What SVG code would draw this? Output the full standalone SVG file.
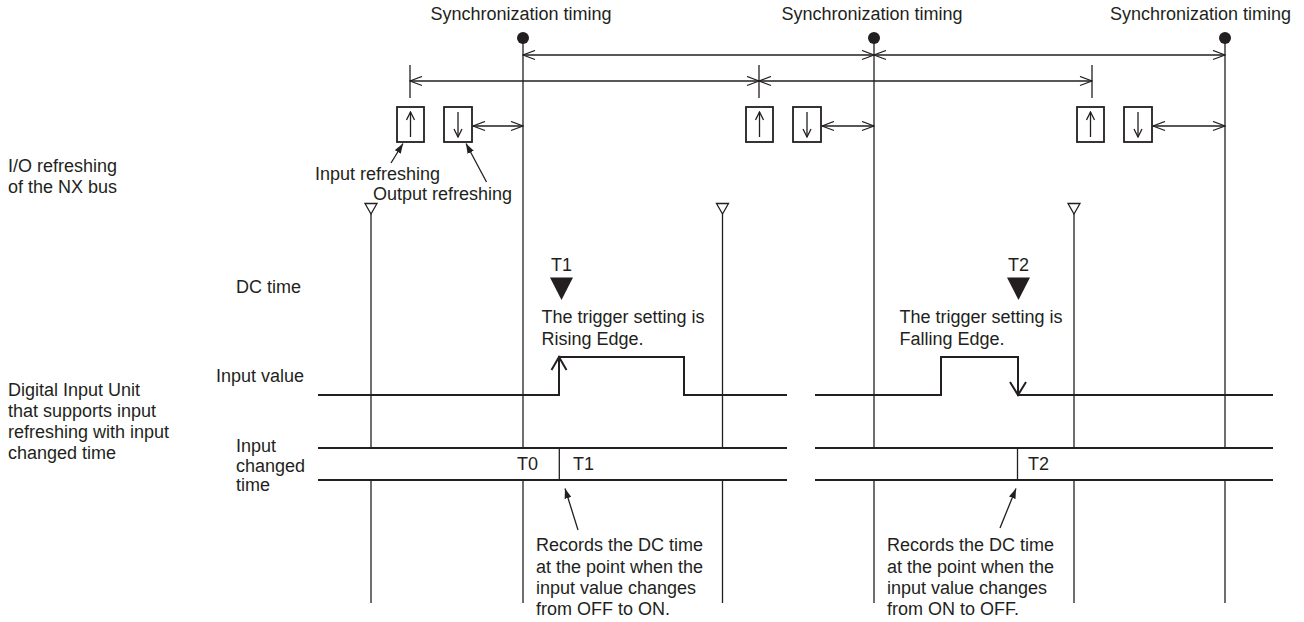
<svg xmlns="http://www.w3.org/2000/svg" width="1304" height="622" viewBox="0 0 1304 622">
<style>
.t{font-family:"Liberation Sans",Arial,sans-serif;font-size:18px;fill:#231f20}
.m{text-anchor:middle}
.e{text-anchor:end}
.ln{stroke:#231f20;stroke-width:1.3;fill:none}
.th{stroke:#231f20;stroke-width:2;fill:none}
.box{stroke:#231f20;stroke-width:1.8;fill:#fff}
.dot{fill:#231f20}
.tri{stroke:#231f20;stroke-width:1.3;fill:#fff}
.band{fill:#fff;stroke:none}
</style>
<defs>
<marker id="open" markerUnits="userSpaceOnUse" viewBox="0 0 14 11" markerWidth="14" markerHeight="11" refX="13" refY="5.5" orient="auto-start-reverse"><path d="M1,1 L13,5.5 L1,10" fill="none" stroke="#231f20" stroke-width="1.3"/></marker>
<marker id="small" markerUnits="userSpaceOnUse" viewBox="0 0 10 10" markerWidth="10" markerHeight="10" refX="9" refY="5" orient="auto-start-reverse"><path d="M1,1 L9,5 L1,9" fill="none" stroke="#231f20" stroke-width="1.3"/></marker>
<marker id="fill" markerUnits="userSpaceOnUse" viewBox="0 0 10 7" markerWidth="10" markerHeight="7" refX="10" refY="3.5" orient="auto"><path d="M0,0 L10,3.5 L0,7 z" fill="#231f20"/></marker>
</defs>
<rect width="1304" height="622" fill="#fff"/>

<g id="timing-lines">
<line class="ln" x1="523" y1="38" x2="523" y2="603"/>
<line class="ln" x1="874" y1="38" x2="874" y2="603"/>
<line class="ln" x1="1225" y1="38" x2="1225" y2="603"/>
<line class="ln" x1="371" y1="214" x2="371" y2="603"/>
<line class="ln" x1="722.5" y1="214" x2="722.5" y2="603"/>
<line class="ln" x1="1074" y1="214" x2="1074" y2="603"/>
</g>

<g id="sync-markers">
<text class="t m" x="521" y="20">Synchronization timing</text>
<text class="t m" x="872" y="20">Synchronization timing</text>
<text class="t e" x="1291" y="20">Synchronization timing</text>
<circle class="dot" cx="523" cy="38" r="6"/>
<circle class="dot" cx="874" cy="38" r="6"/>
<circle class="dot" cx="1225" cy="38" r="6"/>
</g>

<g id="dc-markers">
<polygon class="tri" points="365,203.5 377,203.5 371,214"/>
<polygon class="tri" points="716.5,203.5 728.5,203.5 722.5,214"/>
<polygon class="tri" points="1068,203.5 1080,203.5 1074,214"/>
</g>

<g id="ticks">
<line class="ln" x1="410" y1="65" x2="410" y2="98"/>
<line class="ln" x1="759" y1="65" x2="759" y2="98"/>
<line class="ln" x1="1092" y1="65" x2="1092" y2="98"/>
</g>

<g id="refresh-boxes">
<g id="box-in-1"><rect class="box" x="397" y="107" width="27" height="35"/><line class="ln" x1="410.5" y1="137" x2="410.5" y2="112" marker-end="url(#small)"/></g>
<g id="box-out-1"><rect class="box" x="444" y="107" width="28" height="35"/><line class="ln" x1="458" y1="112" x2="458" y2="137" marker-end="url(#small)"/></g>
<g id="box-in-2"><rect class="box" x="746" y="107" width="27" height="35"/><line class="ln" x1="759.5" y1="137" x2="759.5" y2="112" marker-end="url(#small)"/></g>
<g id="box-out-2"><rect class="box" x="793" y="107" width="28" height="35"/><line class="ln" x1="807" y1="112" x2="807" y2="137" marker-end="url(#small)"/></g>
<g id="box-in-3"><rect class="box" x="1077" y="107" width="27" height="35"/><line class="ln" x1="1090.5" y1="137" x2="1090.5" y2="112" marker-end="url(#small)"/></g>
<g id="box-out-3"><rect class="box" x="1124" y="107" width="28" height="35"/><line class="ln" x1="1138" y1="112" x2="1138" y2="137" marker-end="url(#small)"/></g>
</g>

<g id="left-labels">
<text class="t" x="8" y="172">I/O refreshing</text>
<text class="t" x="8" y="193">of the NX bus</text>
<text class="t" x="8" y="396">Digital Input Unit</text>
<text class="t" x="8" y="417">that supports input</text>
<text class="t" x="8" y="438">refreshing with input</text>
<text class="t" x="8" y="459">changed time</text>
<text class="t" x="236" y="293">DC time</text>
<text class="t" x="216" y="382">Input value</text>
<text class="t" x="236" y="452">Input</text>
<text class="t" x="236" y="472">changed</text>
<text class="t" x="236" y="491">time</text>
</g>

<g id="refresh-labels">
<text class="t" x="315" y="180">Input refreshing</text>
<text class="t" x="373" y="200">Output refreshing</text>
</g>

<g id="trigger-1">
<polygon class="dot" points="550,277.5 573,277.5 561.5,300"/>
<text class="t m" x="561.5" y="271">T1</text>
<text class="t" x="541.5" y="323">The trigger setting is</text>
<text class="t" x="541.5" y="345">Rising Edge.</text>
</g>
<g id="trigger-2">
<polygon class="dot" points="1007,277.5 1030,277.5 1018.5,300"/>
<text class="t m" x="1018.5" y="271">T2</text>
<text class="t" x="899.5" y="323">The trigger setting is</text>
<text class="t" x="899.5" y="345">Falling Edge.</text>
</g>

<g id="input-value">
<path class="th" d="M318,395 H559 V357 H684 V395 H787"/>
<polyline class="th" points="551.5,370 559,357 566.5,370"/>
<path class="th" d="M815,395 H941 V357 H1018 V395 H1273"/>
<polyline class="th" points="1010,382 1018,395 1026,382"/>
</g>

<g id="changed-time">
<rect class="band" x="318" y="448" width="469" height="32"/>
<rect class="band" x="815" y="448" width="458" height="32"/>
<line class="th" x1="318" y1="448" x2="787" y2="448"/>
<line class="th" x1="318" y1="480" x2="787" y2="480"/>
<line class="th" x1="815" y1="448" x2="1273" y2="448"/>
<line class="th" x1="815" y1="480" x2="1273" y2="480"/>
<line class="ln" x1="559.3" y1="448" x2="559.3" y2="480"/>
<line class="ln" x1="1017.5" y1="448" x2="1017.5" y2="480"/>
<text class="t e" x="538" y="470">T0</text>
<text class="t" x="573" y="470">T1</text>
<text class="t" x="1028" y="470">T2</text>
</g>

<g id="notes">
<text class="t" x="536" y="551">Records the DC time</text>
<text class="t" x="536" y="572.5">at the point when the</text>
<text class="t" x="536" y="594">input value changes</text>
<text class="t" x="536" y="615">from OFF to ON.</text>
<text class="t" x="887" y="551">Records the DC time</text>
<text class="t" x="887" y="572.5">at the point when the</text>
<text class="t" x="887" y="594">input value changes</text>
<text class="t" x="887" y="615">from ON to OFF.</text>
</g>

<g id="connectors">
<line class="ln" x1="523" y1="55" x2="874" y2="55" marker-start="url(#open)" marker-end="url(#open)"/>
<line class="ln" x1="874" y1="55" x2="1225" y2="55" marker-start="url(#open)" marker-end="url(#open)"/>
<line class="ln" x1="410" y1="81" x2="759" y2="81" marker-start="url(#open)" marker-end="url(#open)"/>
<line class="ln" x1="759" y1="81" x2="1092" y2="81" marker-start="url(#open)" marker-end="url(#open)"/>
<line class="ln" x1="473" y1="126" x2="523" y2="126" marker-start="url(#open)" marker-end="url(#open)"/>
<line class="ln" x1="822" y1="126" x2="874" y2="126" marker-start="url(#open)" marker-end="url(#open)"/>
<line class="ln" x1="1153" y1="126" x2="1225" y2="126" marker-start="url(#open)" marker-end="url(#open)"/>
<line class="ln" x1="391" y1="163" x2="403" y2="143.5" marker-end="url(#fill)"/>
<line class="ln" x1="486.5" y1="182" x2="466" y2="143.5" marker-end="url(#fill)"/>
<line class="ln" x1="578" y1="530" x2="565" y2="488.5" marker-end="url(#fill)"/>
<line class="ln" x1="1000" y1="528" x2="1016" y2="488.5" marker-end="url(#fill)"/>
</g>
</svg>
